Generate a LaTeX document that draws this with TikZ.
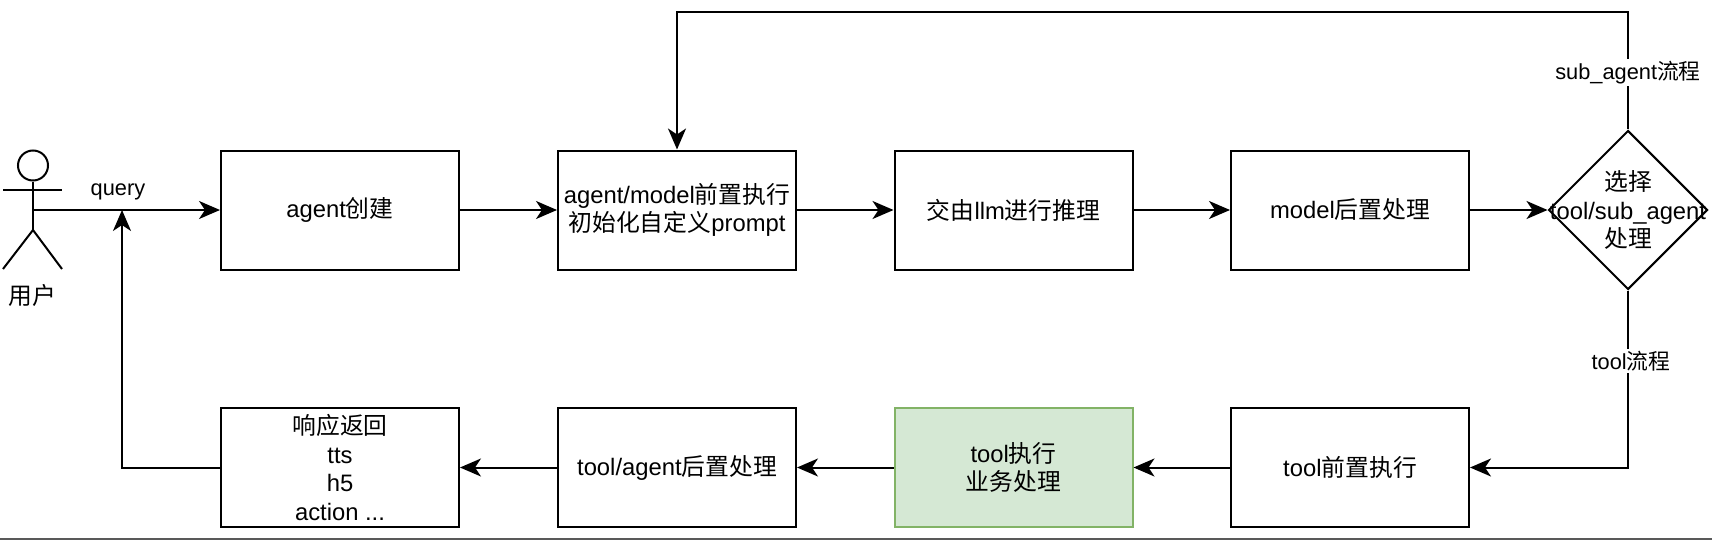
\documentclass[tikz,border=0pt]{standalone}
\usepackage{fontspec}
\setmainfont{Liberation Sans}
\newfontfamily\cjk{Noto Sans CJK SC}
\newcommand{\zh}[1]{{\cjk #1}}
\usetikzlibrary{shapes.geometric, arrows.meta}
\tikzset{
  txt/.style={font=\fontsize{11.9}{14.2}\selectfont, align=center, inner sep=0pt},
  lbl/.style={font=\fontsize{10.9}{13}\selectfont, align=center, fill=white, inner sep=1pt},
  stage/.style={txt, draw, line width=1pt, minimum width=119pt, minimum height=59.5pt},
  choice/.style={txt, draw, shape=diamond, shape aspect=1, line width=1pt, inner sep=-16pt, minimum width=79.5pt, minimum height=79.5pt},
  flow/.style={line width=1pt, -{Stealth[length=10.5pt, width=9pt, inset=3pt]}},
  stick/.style={line width=1pt}
}
\definecolor{bizfill}{HTML}{D5E8D4}
\definecolor{bizline}{HTML}{82B366}
\begin{document}
\begin{tikzpicture}[x=0.5pt, y=-0.5pt]
\useasboundingbox (0,0) rectangle (1712,540);
\node[stick, draw, circle, minimum size=15pt, inner sep=0pt] (head) at (33,165.5) {};
\coordinate (hand) at (33,210);
\coordinate (hip) at (33,230);
\coordinate (armL) at (3,190);
\coordinate (armR) at (62,190);
\coordinate (legL) at (3,269);
\coordinate (legR) at (62,269);
\node[txt] (user) at (32,295) {\zh{用户}};
\node[stage] (create) at (340,210) {agent\zh{创建}};
\node[stage] (pre) at (677,210) {agent/model\zh{前置执行}\\\zh{初始化自定义}prompt};
\node[stage] (llm) at (1013.5,210) {\zh{交由}llm\zh{进行推理}};
\node[stage] (post) at (1350,210) {model\zh{后置处理}};
\node[choice] (choice) at (1628,210) {\zh{选择}\\tool/sub\_agent\\\zh{处理}};
\node[stage] (toolpre) at (1350,467.5) {tool\zh{前置执行}};
\node[stage, fill=bizfill, draw=bizline] (toolrun) at (1013.5,467.5) {tool\zh{执行}\\\zh{业务处理}};
\node[stage] (toolpost) at (677,467.5) {tool/agent\zh{后置处理}};
\node[stage] (reply) at (340,467.5) {\zh{响应返回}\\tts\\h5\\action ...};
\coordinate (turnR) at (1628,12);
\coordinate (turnL) at (677,12);
\coordinate (turnB) at (1628,467.5);
\coordinate (merge) at (122,210);
\coordinate (corner) at (122,467.5);
\coordinate (edgeL) at (0,539);
\coordinate (edgeR) at (1712,539);
\draw[stick] (head) -- (hip);
\draw[stick] (armL) -- (armR);
\draw[stick] (legL) -- (hip) -- (legR);
\draw[flow] (hand) -- (create);
\node[lbl, fill=none] (query) at (118,192) {query};
\draw (create) edge[flow] (pre);
\draw (pre) edge[flow] (llm);
\draw (llm) edge[flow] (post);
\draw (post) edge[flow] (choice);
\draw[flow] (choice.north) -- node[lbl, pos=0.485] (subflow) {sub\_agent\zh{流程}} (turnR) -- (turnL) -- (pre.north);
\draw[flow] (choice.south) -- node[lbl, pos=0.4, xshift=1.5pt] (toolflow) {tool\zh{流程}} (turnB) -- (toolpre);
\draw (toolpre) edge[flow] (toolrun);
\draw (toolrun) edge[flow] (toolpost);
\draw (toolpost) edge[flow] (reply);
\draw[flow] (reply) -- (corner) -- (merge);
\draw[line width=1.2pt, black!65] (edgeL) -- (edgeR);
\end{tikzpicture}
\end{document}
